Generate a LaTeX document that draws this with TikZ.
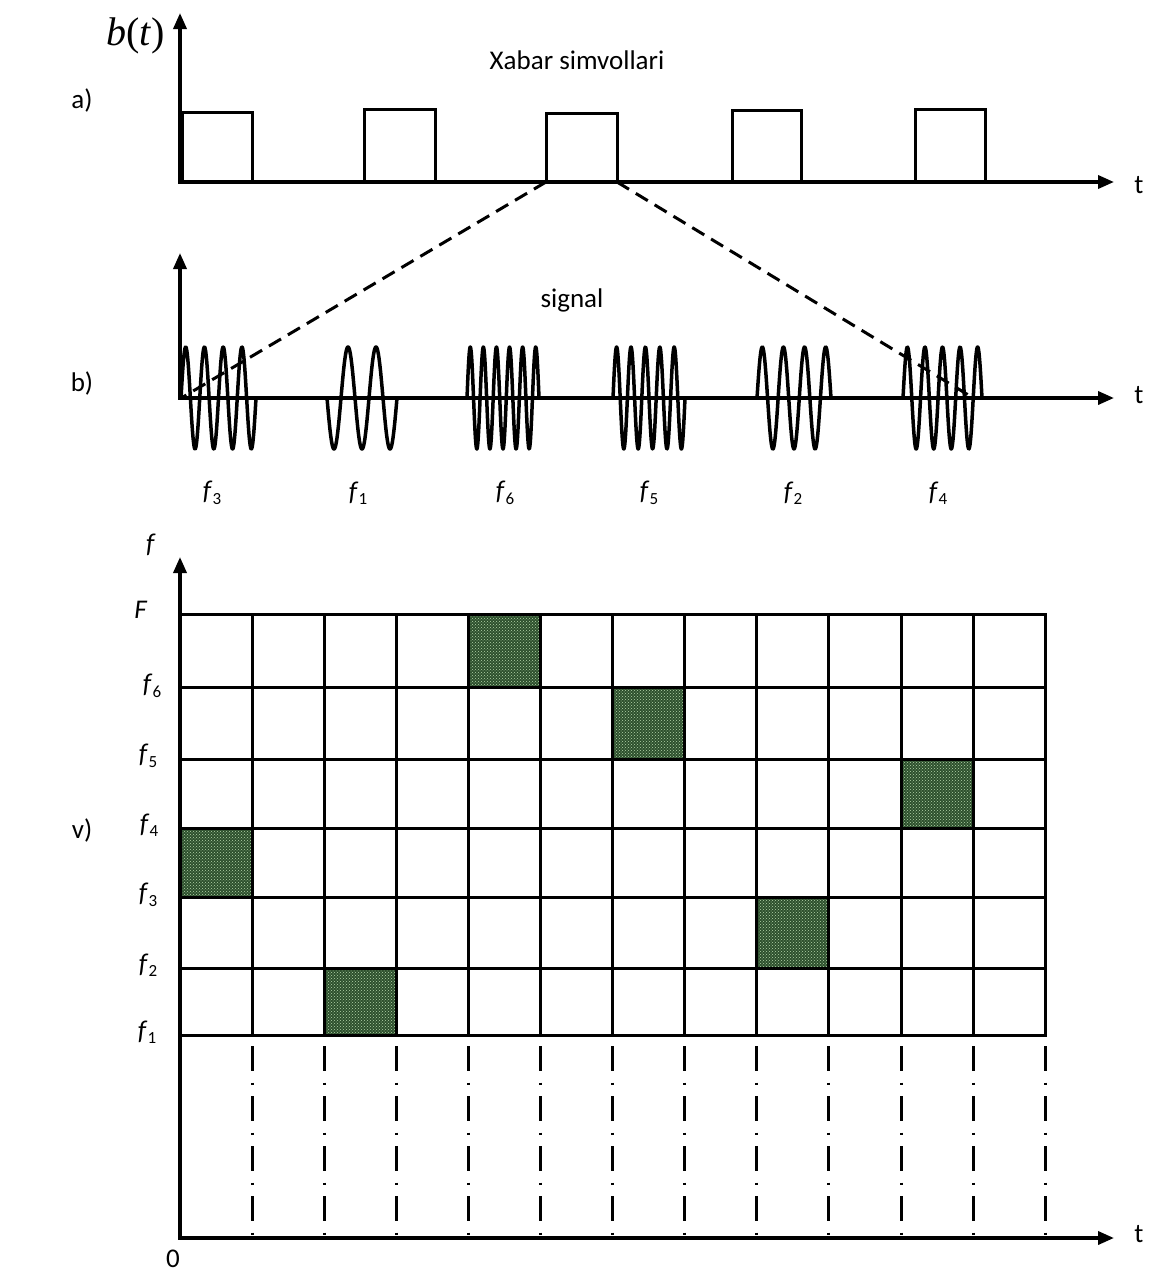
\documentclass[tikz,border=0pt]{standalone}
\usepackage{fontspec}
\setmainfont{Carlito}
\newfontfamily\btfont{Liberation Serif}
\usetikzlibrary{arrows.meta,patterns}
\definecolor{cellgreen}{RGB}{45,80,45}
\definecolor{celldots}{RGB}{180,212,170}
\newcommand{\fsub}[1]{\textit{f}\kern0.3pt\raisebox{-0.35ex}{\fontsize{17}{20}\selectfont #1}}
\tikzset{
  axisline/.style={line width=3.5pt, line join=miter, {Triangle[length=16pt,width=13pt]}-{Triangle[length=16pt,width=13pt]}},
  pulseline/.style={line width=3pt, line join=miter},
  waveline/.style={line width=3.5pt, line join=round, line cap=round},
  dashline/.style={line width=3pt, dash pattern=on 14pt off 8pt},
  gridline/.style={line width=3pt, line cap=rect},
  dotline/.style={line width=3pt, dash pattern=on 25pt off 11.5pt on 2.5pt off 11pt, dash phase=39pt},
  cell/.style={line width=3pt, fill=cellgreen, postaction={pattern=crosshatch dots, pattern color=celldots}},
  lbl/.style={inner sep=0pt, font=\fontsize{27}{30}\selectfont},
}
\begin{document}
\begin{tikzpicture}[x=1pt,y=-1pt]
\useasboundingbox (0,0) rectangle (1173,1274);

% ---------- a) ----------
\coordinate (aY) at (180,13);
\coordinate (aO) at (180,182);
\coordinate (aX) at (1114,182);
\foreach \a/\b/\h in {182/252/112, 364/435/109, 546/617/113, 732/801/110, 915/985/109}
  \draw[pulseline] (\a,182) -- (\a,\h) -- (\b,\h) -- (\b,182);
\draw[axisline] (aY) -- (aO) -- (aX);
\node[inner sep=0pt, anchor=base west, font=\btfont\fontsize{40}{44}\selectfont] (bt) at (106,45) {\textit{b}(\textit{t})};
\node[lbl] (xabar) at (577,60) {Xabar simvollari};
\node[lbl] (la) at (82,100) {a)};
\node[lbl] (ta) at (1139,185) {t};

% ---------- b) ----------
\coordinate (bY) at (180,253);
\coordinate (bO) at (180,398);
\coordinate (bX) at (1114,398);
\foreach \xa/\w/\n/\s in {181/75/4/1, 327/70/2.5/-1, 467/72/5.5/1, 613/72/5/1, 757/74/3.5/1, 903/79/4.5/1}
  \draw[waveline] plot[domain=0:1, samples=240, variable=\u] ({\xa+\w*\u}, {398-\s*51*sin(360*\n*\u)});
\draw[axisline] (bY) -- (bO) -- (bX);
\node[lbl] (signal) at (572,300) {signal};
\node[lbl] (lb) at (82,383) {b)};
\node[lbl] (tb) at (1139,395) {t};
\node[lbl] (w3) at (212,493) {\fsub{3}};
\node[lbl] (w1) at (358,493) {\fsub{1}};
\node[lbl] (w6) at (505,493) {\fsub{6}};
\node[lbl] (w5) at (649,493) {\fsub{5}};
\node[lbl] (w2) at (793,493) {\fsub{2}};
\node[lbl] (w4) at (938,493) {\fsub{4}};

% dashed zoom lines
\coordinate (p3L) at (546,182);
\coordinate (p3R) at (617,182);
\coordinate (dL) at (183,397);
\coordinate (dR) at (970,396);
\draw[dashline] (p3L) -- (dL);
\draw[dashline] (p3R) -- (dR);

% ---------- v) ----------
% shaded cells
\draw[cell] (180.0,828) rectangle (252.1,897);
\draw[cell] (324.2,968) rectangle (396.3,1035);
\draw[cell] (468.4,614) rectangle (540.5,687);
\draw[cell] (612.6,687) rectangle (684.7,759);
\draw[cell] (756.8,897) rectangle (828.9,968);
\draw[cell] (901.0,759) rectangle (973.1,828);
% grid
\foreach \y in {614,687,759,828,897,968,1035}
  \draw[gridline] (180,\y) -- (1045.2,\y);
\foreach \i in {1,...,12}
  \draw[gridline] ({180+72.1*\i},614) -- ({180+72.1*\i},1035);
\foreach \i in {1,...,12}
  \draw[dotline] ({180+72.1*\i},1035) -- ({180+72.1*\i},1238);
\coordinate (vY) at (180,557);
\coordinate (vO) at (180,1238);
\coordinate (vX) at (1114,1238);
\draw[axisline] (vY) -- (vO) -- (vX);
\node[lbl] (fax) at (151,545) {\textit{f}};
\node[lbl] (rF) at (141,610) {\textit{F}};
\node[lbl] (r6) at (152,686) {\fsub{6}};
\node[lbl] (r5) at (148,756) {\fsub{5}};
\node[lbl] (r4) at (149,825) {\fsub{4}};
\node[lbl] (r3) at (148,895) {\fsub{3}};
\node[lbl] (r2) at (148,965) {\fsub{2}};
\node[lbl] (r1) at (147,1032) {\fsub{1}};
\node[lbl] (lv) at (82,830) {v)};
\node[lbl] (tv) at (1139,1234) {t};
\node[lbl] (zero) at (173,1259) {0};
\end{tikzpicture}
\end{document}
